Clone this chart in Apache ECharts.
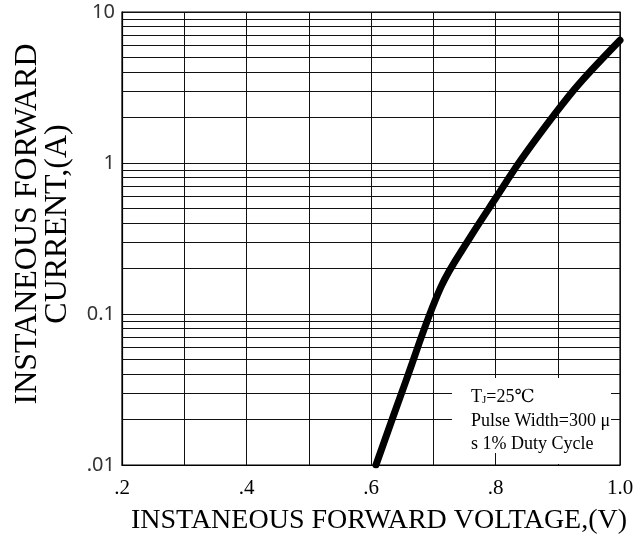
<!DOCTYPE html>
<html>
<head>
<meta charset="utf-8">
<script src="https://cdn.jsdelivr.net/npm/echarts@6/dist/echarts.min.js"></script>
<style>
html,body{margin:0;padding:0;background:#fff;}
#chart{width:643px;height:543px;}
</style>
</head>
<body>
<div id="chart"></div>
<script>
// Forward voltage (V) and instantaneous forward current (A)
var voltage = [0.608, 0.655, 0.712, 0.761, 0.802, 0.841, 0.896, 0.935, 1.0];
var current = [0.01, 0.035, 0.15, 0.33, 0.60, 1.05, 2.13, 3.37, 6.5];

var xTickValues = [0.2, 0.4, 0.6, 0.8, 1.0];
var xTickLabels = ['.2', '.4', '.6', '.8', '1.0'];
var yTickValues = [0.01, 0.1, 1, 10];
var yTickLabels = ['.01', '0.1', '1', '10'];
var yMinorValues = [0.02, 0.03, 0.04, 0.05, 0.06, 0.07, 0.08, 0.09,
                    0.2, 0.3, 0.4, 0.5, 0.6, 0.7, 0.8, 0.9,
                    2, 3, 4, 5, 6, 7, 8, 9];

var xTitle = 'INSTANEOUS FORWARD VOLTAGE,(V)';
var yTitleLines = ['INSTANEOUS FORWARD', 'CURRENT,(A)'];
var noteLines = ['Pulse Width=300 \u03bc', 's 1% Duty Cycle'];

function lookup(vals, labels, v) {
  for (var i = 0; i < vals.length; i++) {
    if (Math.abs(vals[i] - v) < 1e-6 * Math.max(1, Math.abs(v))) return labels[i];
  }
  return '';
}

var serif = '"Liberation Serif", "DejaVu Serif", serif';
var chart = echarts.init(document.getElementById('chart'), null, {renderer: 'canvas'});

var data = voltage.map(function (v, i) { return [v, current[i]]; });

chart.setOption({
  animation: false,
  backgroundColor: '#ffffff',
  grid: {left: 122, right: 23, top: 12, bottom: 78, show: true, borderColor: '#000', borderWidth: 1.2, backgroundColor: 'transparent'},
  xAxis: {
    type: 'value', min: 0.2, max: 1.0, interval: 0.1,
    axisLine: {show: true, lineStyle: {color: '#000', width: 1.2}},
    axisTick: {show: false},
    splitLine: {show: true, lineStyle: {color: '#111', width: 1}},
    axisLabel: {
      margin: 13, color: '#000', fontFamily: serif, fontSize: 21,
      formatter: function (v) { return lookup(xTickValues, xTickLabels, v); }
    },
    name: xTitle, nameLocation: 'middle', nameGap: 42,
    nameTextStyle: {fontFamily: serif, fontSize: 28, color: '#000', padding: [0, 0, 0, 16]}
  },
  yAxis: {
    type: 'log', logBase: 10, min: 0.01, max: 10,
    axisLine: {show: true, lineStyle: {color: '#000', width: 1.2}},
    axisTick: {show: false},
    splitLine: {show: true, lineStyle: {color: '#111', width: 1}},
    minorTick: {show: false},
    minorSplitLine: {show: false},
    axisLabel: {
      margin: 7, color: '#333', fontFamily: '"Noto Sans", "DejaVu Sans", sans-serif', fontSize: 20,
      formatter: function (v) { return lookup(yTickValues, yTickLabels, v); }
    }
  },
  graphic: [
    {
      type: 'text', z: 50, x: 43, y: 224, rotation: Math.PI / 2,
      style: {
        text: yTitleLines.join('\n'), fill: '#000',
        font: '32px ' + serif, textAlign: 'center', textVerticalAlign: 'middle', lineHeight: 30
      }
    },
    {
      type: 'rect', z: 50, shape: {x: 452, y: 378, width: 159, height: 75},
      style: {fill: '#fff', stroke: null}
    },
    {
      type: 'rect', z: 50, shape: {x: 505, y: 452, width: 106, height: 12},
      style: {fill: '#fff', stroke: null}
    },
    {
      type: 'text', z: 51, x: 471, y: 397,
      style: {
        rich: {
          a: {fontFamily: serif, fontSize: 18, fill: '#000'},
          b: {fontFamily: serif, fontSize: 11, fill: '#000', verticalAlign: 'bottom', padding: [7, 0, 0, 0]}
        },
        text: '{a|T}{b|J}{a|=25\u2103}',
        textVerticalAlign: 'middle'
      }
    },
    {
      type: 'text', z: 51, x: 471, y: 421,
      style: {text: noteLines[0], font: '18px ' + serif, fill: '#000', textVerticalAlign: 'middle'}
    },
    {
      type: 'text', z: 51, x: 471, y: 444,
      style: {text: noteLines[1], font: '18px ' + serif, fill: '#000', textVerticalAlign: 'middle'}
    }
  ],
  series: [{
    type: 'line',
    data: data,
    smooth: 0.35,
    symbol: 'none',
    lineStyle: {color: '#000', width: 7, cap: 'round', join: 'round'},
    z: 10,
    markLine: {
      silent: true, symbol: ['none', 'none'], label: {show: false},
      lineStyle: {color: '#111', width: 1, type: 'solid'},
      emphasis: {disabled: true},
      data: yMinorValues.map(function (v) { return {yAxis: v}; })
    }
  }]
});
</script>
</body>
</html>
